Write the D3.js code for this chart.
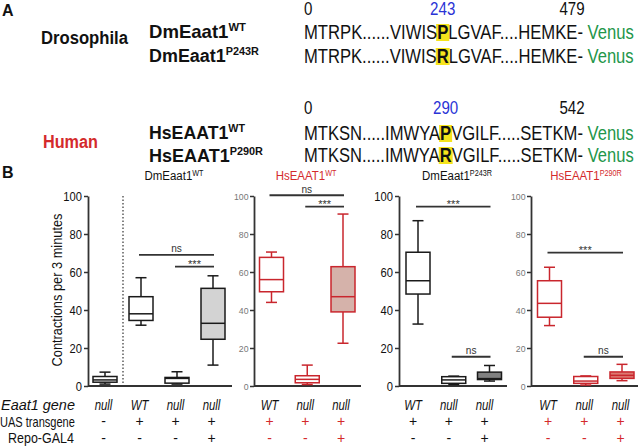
<!DOCTYPE html>
<html><head><meta charset="utf-8">
<script src="https://cdn.jsdelivr.net/npm/d3@7"></script>
<style>
body{margin:0;background:#fff}
svg{display:block}
text{font-family:"Liberation Sans",Arial,Helvetica,sans-serif;white-space:pre}
</style>
</head><body>
<svg id="c" width="640" height="446"></svg>
<script>
// ---------------- DATA ----------------
// Part A
const dmNames = [["DmEaat1","WT"],["DmEaat1","P243R"]];
const dmSeqs = [["MTRPK......VIWIS","P","LGVAF....HEMKE- ","Venus"],
                ["MTRPK......VIWIS","R","LGVAF....HEMKE- ","Venus"]];
const dmPositions = ["0","243","479"];
const hsNames = [["HsEAAT1","WT"],["HsEAAT1","P290R"]];
const hsSeqs = [["MTKSN.....IMWYA","P","VGILF.....SETKM- ","Venus"],
                ["MTKSN.....IMWYA","R","VGILF.....SETKM- ","Venus"]];
const hsPositions = ["0","290","542"];

// Part B : box stats [min, q1, median, q3, max]
const panelTitles = [["DmEaat1","WT"],["HsEAAT1","WT"],["DmEaat1","P243R"],["HsEAAT1","P290R"]];
const dmWTStats = [[1,2,3.2,5,7.3],[32,34.5,38,47,57],[1,1.5,4,4.5,7.5],[11,24.6,33,51.4,58]];
const hsWTStats = [[44,49.6,56,67.7,70.5],[0.8,1.7,3.5,5.4,11],[22.5,39,47,62.8,90.5]];
const dmP243RStats = [[32.6,48.4,55.4,70.4,87],[0.8,1.4,3.2,4.9,5.2],[2.6,3.4,3.9,7.3,10.8]];
const hsP290RStats = [[31.8,36.2,43.5,55.4,62.5],[0.5,1.4,2.6,5,5.3],[2.8,4,5.6,7.4,11.4]];
const geneRow1 = ["null","WT","null","null"], uasRow1 = ["-","+","+","+"], repoRow1 = ["-","-","-","+"];
const geneRow = ["WT","null","null"], uasRow = ["+","+","+"], repoRow = ["-","-","+"];
// significance: [fromCol, toCol, level, label]
const sig1 = [[1,3,69,"ns"],[2,3,62.8,"***"]];
const sig2 = [[0,2,100.4,"ns"],[1,2,94.4,"***"]];
const sig3 = [[0,2,94.4,"***"],[1,2,15.4,"ns"]];
const sig4 = [[0,2,70.2,"***"],[1,2,15.4,"ns"]];
const yTicks = [0,20,40,60,80,100];
const rowLabels = ["Eaat1 gene","UAS transgene","Repo-GAL4"];

// ---------------- STYLE ----------------
const RED = "#c9262d", TRED = "#d42a2c", GREEN = "#23964a", BLUE = "#2a33d6", YEL = "#f6e41c";
const svg = d3.select("#c");

function label(parent, x, y, parts, o){
  o = o||{};
  const g = parent.append("g");
  const t = g.append("text").attr("font-size", o.size||12)
    .attr("fill", o.fill||"#111").attr("text-anchor", o.anchor||"start");
  if(o.weight) t.attr("font-weight", o.weight);
  if(o.style) t.attr("font-style", o.style);
  if(typeof parts === "string") parts = [[parts]];
  parts.forEach(p=>{
    const ts = t.append("tspan").text(p[0]);
    const po = p[1]||{};
    if(po.sup){ ts.attr("font-size", po.sup).attr("dy", po.dy||-5); }
    if(po.fill) ts.attr("fill", po.fill);
    if(po.weight) ts.attr("font-weight", po.weight);
  });
  let sx = o.sx||1;
  if(o.width){ sx = o.width / t.node().getComputedTextLength(); }
  g.attr("transform", `translate(${x},${y})${o.rot?` rotate(${o.rot})`:""} scale(${sx},1)`);
  return {g, t, sx};
}

// ---------------- PART A ----------------
label(svg, 2, 16, "A", {size:16, weight:"bold"});
label(svg, 41, 44, "Drosophila", {size:19, weight:"bold", width:87});
label(svg, 43, 148, "Human", {size:19, weight:"bold", width:55, fill:TRED});

function nameLabel(y, nm, w){
  label(svg, 149, y, [[nm[0]],[nm[1],{sup:11.5, dy:-7}]], {size:19, weight:"bold", width:w});
}
nameLabel(38, dmNames[0], 97);
nameLabel(62, dmNames[1], 110);
nameLabel(139, hsNames[0], 96);
nameLabel(162, hsNames[1], 114);

function seqLine(y, parts){
  const g = svg.append("g");
  const t = g.append("text").attr("font-size",20).attr("fill","#111");
  t.append("tspan").text(parts[0]);
  t.append("tspan").attr("font-weight","bold").text(parts[1]);
  t.append("tspan").text(parts[2]);
  t.append("tspan").attr("fill",GREEN).text(parts[3]);
  const sx = 330 / t.node().getComputedTextLength();
  g.attr("transform",`translate(304,${y}) scale(${sx},1)`);
  const ext = t.node().getExtentOfChar(parts[0].length);
  g.insert("rect","text").attr("x",ext.x-1.2).attr("y",-15)
    .attr("width",ext.width+2.4).attr("height",17).attr("fill",YEL);
  return 304 + sx*(ext.x+ext.width/2);
}
const dmC = seqLine(39, dmSeqs[0]); seqLine(63, dmSeqs[1]);
const hsC = seqLine(140, hsSeqs[0]); seqLine(162, hsSeqs[1]);

function posRow(y, pos, cx){
  label(svg, 304, y, pos[0], {size:18, sx:0.84});
  label(svg, cx, y, pos[1], {size:18, sx:0.84, anchor:"middle", fill:BLUE});
  label(svg, 572, y, pos[2], {size:18, sx:0.84, anchor:"middle"});
}
posRow(15, dmPositions, dmC);
posRow(114, hsPositions, hsC);

// ---------------- PART B ----------------
label(svg, 2, 178, "B", {size:16, weight:"bold"});
const y = d3.scaleLinear().domain([0,100]).range([386,196]);

const panels = [
  {stats:dmWTStats, gene:geneRow1, uas:uasRow1, repo:repoRow1, sig:sig1, title:panelTitles[0],
   x0:88, x1:232, c0:105, c1:213, red:false, shift:-1.5, fills:["#fff","#fff","#fff","#d3d3d3"], tc:174},
  {stats:hsWTStats, gene:geneRow, uas:uasRow, repo:repoRow, sig:sig2, title:panelTitles[1],
   x0:254, x1:361, c0:271.5, c1:343, red:true, shift:-2, fills:["#fff","#fff","#d5b2aa"], tc:306},
  {stats:dmP243RStats, gene:geneRow, uas:uasRow, repo:repoRow, sig:sig3, title:panelTitles[2],
   x0:399, x1:507, c0:418, c1:489.5, red:false, shift:-5, fills:["#fff","#fff","#808080"], tc:457},
  {stats:hsP290RStats, gene:geneRow, uas:uasRow, repo:repoRow, sig:sig4, title:panelTitles[3],
   x0:531, x1:638, c0:549.5, c1:622, red:true, shift:-1.5, fills:["#fff","#fff","#dc7870"], tc:586}
];

const BW = 24, CW = 11;
panels.forEach(p=>{
  const g = svg.append("g");
  const n = p.stats.length;
  const x = d3.scalePoint().domain(d3.range(n)).range([p.c0,p.c1]);
  const stroke = p.red ? RED : "#1a1a1a";
  // y axis
  const tsx = p.red ? 0.92 : 0.86, pad = p.red ? 1.5 : 2;
  const ax = g.append("g").attr("transform",`translate(${p.x0},0)`)
    .call(d3.axisLeft(y).tickValues(yTicks).tickSize(4).tickSizeOuter(0).tickPadding(pad));
  ax.select(".domain").attr("stroke","#333").attr("stroke-width",1.8);
  ax.selectAll(".tick line").attr("stroke","#333").attr("stroke-width",1.5);
  ax.selectAll(".tick text").attr("font-family","Liberation Sans, Arial, sans-serif")
    .attr("font-size", p.red?9.5:13).attr("fill", p.red?"#777":"#111")
    .attr("x", -(4+pad)/tsx).attr("transform",`scale(${tsx},1)`);
  // x axis line
  g.append("line").attr("x1",p.x0).attr("x2",p.x1).attr("y1",y(0)).attr("y2",y(0))
    .attr("stroke","#333").attr("stroke-width",1.8);
  // boxes
  p.stats.forEach((s,i)=>{
    const cx = x(i);
    const bg = g.append("g").attr("stroke",stroke).attr("stroke-width",1.5).attr("fill","none");
    bg.append("line").attr("x1",cx).attr("x2",cx).attr("y1",y(s[4])).attr("y2",y(s[3]));
    bg.append("line").attr("x1",cx).attr("x2",cx).attr("y1",y(s[1])).attr("y2",y(s[0]));
    bg.append("line").attr("x1",cx-CW/2).attr("x2",cx+CW/2).attr("y1",y(s[4])).attr("y2",y(s[4]));
    bg.append("line").attr("x1",cx-CW/2).attr("x2",cx+CW/2).attr("y1",y(s[0])).attr("y2",y(s[0]));
    bg.append("rect").attr("x",cx-BW/2).attr("width",BW).attr("y",y(s[3]))
      .attr("height",y(s[1])-y(s[3])).attr("fill",p.fills[i]);
    bg.append("line").attr("x1",cx-BW/2).attr("x2",cx+BW/2).attr("y1",y(s[2])).attr("y2",y(s[2]));
  });
  // significance
  p.sig.forEach(sg=>{
    const xa = x(sg[0]) - 2, xb = x(sg[1]) + 1, yy = y(sg[2]);
    g.append("line").attr("x1",xa).attr("x2",xb).attr("y1",yy).attr("y2",yy)
      .attr("stroke","#333").attr("stroke-width",1.8);
    if(sg[3]==="ns") label(g,(xa+xb)/2, yy-2.5, "ns", {size:11, sx:0.92, anchor:"middle", fill:"#333"});
    else label(g,(xa+xb)/2, yy+1, "***", {size:11, anchor:"middle", fill:"#333"});
  });
  // title
  label(g, p.tc, 179.5, [[p.title[0]],[p.title[1],{sup:8.5, dy:-4}]],
        {size:13.5, sx:0.85, anchor:"middle", fill:p.red?TRED:"#111"});
  // bottom labels
  const signFill = p.red ? TRED : "#111";
  p.gene.forEach((t,i)=> label(g, x(i)+p.shift, 409.5, t, {size:15, sx:0.76, anchor:"middle", style:"italic"}));
  p.uas.forEach((t,i)=> label(g, x(i)+p.shift, 426, t, {size:14, anchor:"middle", fill:signFill}));
  p.repo.forEach((t,i)=> label(g, x(i)+p.shift, 443, t, {size:14, anchor:"middle", fill:signFill}));
});

// dotted separator in first panel
svg.append("line").attr("x1",123).attr("x2",123).attr("y1",y(100)).attr("y2",y(0))
  .attr("stroke","#333").attr("stroke-width",1.2).attr("stroke-dasharray","1.5,2");

// y label
label(svg, 62, 290, "Contractions per 3 minutes", {size:15, anchor:"middle", rot:-90, width:153});

// row labels
label(svg, 1, 409.5, rowLabels[0], {size:15, style:"italic", width:74});
label(svg, 0, 426.5, rowLabels[1], {size:14.5, width:75});
label(svg, 8, 443, rowLabels[2], {size:14.5, width:66});
</script>
</body></html>
